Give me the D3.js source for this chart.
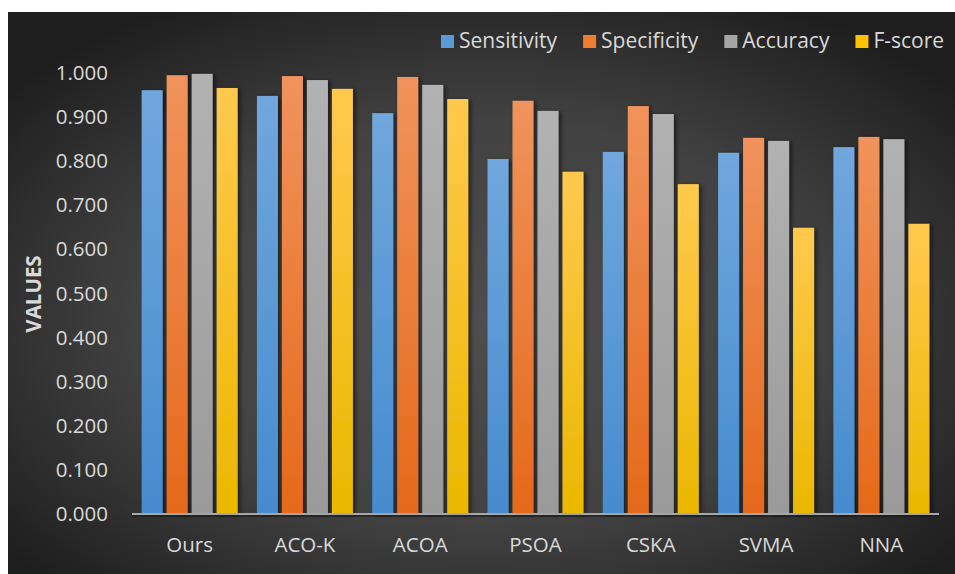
<!DOCTYPE html>
<html>
<head>
<meta charset="utf-8">
<script src="https://cdn.jsdelivr.net/npm/d3@7"></script>
<style>
  html, body { margin: 0; padding: 0; background: #ffffff; }
  svg { display: block; }
  text { font-family: "Open Sans", "Noto Sans", sans-serif; }
</style>
</head>
<body>
<svg id="chart" width="955" height="574"></svg>
<script>
// Methods compared and the four evaluation metrics
const methods = ["Ours", "ACO-K", "ACOA", "PSOA", "CSKA", "SVMA", "NNA"];
const metrics = ["Sensitivity", "Specificity", "Accuracy", "F-score"];

const sensitivity = [0.961, 0.948, 0.909, 0.805, 0.821, 0.819, 0.832];
const specificity = [0.995, 0.993, 0.991, 0.937, 0.925, 0.853, 0.855];
const accuracy    = [0.998, 0.984, 0.973, 0.914, 0.907, 0.846, 0.850];
const fscore      = [0.966, 0.964, 0.941, 0.776, 0.748, 0.649, 0.658];

const yTicks = [0, 0.1, 0.2, 0.3, 0.4, 0.5, 0.6, 0.7, 0.8, 0.9, 1.0];

const seriesValues = [sensitivity, specificity, accuracy, fscore];
const colorTop    = ["#70a7dd", "#f0935c", "#b2b2b2", "#ffc94e"];
const colorBottom = ["#468bce", "#e5691a", "#9a9a9a", "#eab800"];
const legendColor = ["#5b9bd5", "#ed7d31", "#a5a5a5", "#ffc000"];

const svg = d3.select("#chart");
const defs = svg.append("defs");

// Background: dark panel with a soft lighter centre
const bg = defs.append("radialGradient").attr("id", "bgGrad")
  .attr("cx", "50%").attr("cy", "55%").attr("r", "65%");
bg.append("stop").attr("offset", "0%").attr("stop-color", "#4e4e4e");
bg.append("stop").attr("offset", "55%").attr("stop-color", "#424242");
bg.append("stop").attr("offset", "100%").attr("stop-color", "#1e1e1e");

svg.append("rect").attr("x", 8).attr("y", 12).attr("width", 947).attr("height", 562)
  .attr("fill", "url(#bgGrad)");

// Vertical gradients for the bars
metrics.forEach((m, i) => {
  const g = defs.append("linearGradient").attr("id", "bar" + i)
    .attr("x1", 0).attr("y1", 0).attr("x2", 0).attr("y2", 1);
  g.append("stop").attr("offset", "0%").attr("stop-color", colorTop[i]);
  g.append("stop").attr("offset", "100%").attr("stop-color", colorBottom[i]);
});

const shadow = defs.append("filter").attr("id", "shadow")
  .attr("x", "-30%").attr("y", "-10%").attr("width", "170%").attr("height", "130%");
shadow.append("feDropShadow").attr("dx", 2.5).attr("dy", 1).attr("stdDeviation", 2.2)
  .attr("flood-color", "#000").attr("flood-opacity", 0.55);

// Scales
const x0 = d3.scaleBand().domain(methods).range([132, 939]).paddingInner(0).paddingOuter(0);
const x1 = d3.scaleBand().domain(d3.range(metrics.length)).range([0, x0.bandwidth()])
  .paddingInner(0.16).paddingOuter(0.386);
const y = d3.scaleLinear().domain([0, 1]).range([514, 73]);

// Bars
const groups = svg.append("g").selectAll("g").data(methods).join("g")
  .attr("transform", d => `translate(${x0(d)},0)`);

groups.selectAll("rect")
  .data((d, gi) => seriesValues.map((vals, si) => ({ si, v: vals[gi] })))
  .join("rect")
  .attr("x", d => x1(d.si))
  .attr("width", x1.bandwidth())
  .attr("y", d => y(d.v))
  .attr("height", d => y(0) - y(d.v))
  .attr("fill", d => `url(#bar${d.si})`)
  .attr("filter", "url(#shadow)");

// Baseline
svg.append("line").attr("x1", 132).attr("x2", 939).attr("y1", y(0) + 2).attr("y2", y(0) + 2)
  .attr("stroke", "#1a1a1a").attr("stroke-width", 2).attr("opacity", 0.6);
svg.append("line").attr("x1", 132).attr("x2", 939).attr("y1", y(0)).attr("y2", y(0))
  .attr("stroke", "#a6a6a6").attr("stroke-width", 2);

// Y axis labels
const yAxis = d3.axisLeft(y).tickValues(yTicks).tickFormat(d3.format(".3f")).tickSize(0).tickPadding(0);
const ya = svg.append("g").attr("transform", "translate(108,0)").call(yAxis);
ya.select(".domain").remove();
ya.selectAll("text").attr("fill", "#d9d9d9").attr("font-size", "20.5px")
  .attr("font-family", "'Open Sans', sans-serif");

// X axis labels
const xAxis = d3.axisBottom(x0).tickSize(0).tickPadding(0);
const xa = svg.append("g").attr("transform", "translate(0,537)").call(xAxis);
xa.select(".domain").remove();
xa.selectAll("text").attr("fill", "#d9d9d9").attr("font-size", "20.5px")
  .attr("font-family", "'Open Sans', sans-serif").attr("dy", "0.71em");

// Axis title
svg.append("text")
  .attr("transform", "translate(33,294) rotate(-90)")
  .attr("text-anchor", "middle").attr("dominant-baseline", "central")
  .attr("fill", "#d9d9d9").attr("font-size", "20.5px").attr("font-weight", "bold")
  .text("VALUES");

// Legend
const legend = svg.append("g");
let lx = 441;
metrics.forEach((m, i) => {
  legend.append("rect").attr("x", lx).attr("y", 35).attr("width", 13).attr("height", 13)
    .attr("fill", legendColor[i]);
  const t = legend.append("text").attr("x", lx + 18).attr("y", 48)
    .attr("fill", "#d9d9d9").attr("font-size", "21px").text(m);
  lx += 18 + t.node().getComputedTextLength() + 26;
});
</script>
</body>
</html>
